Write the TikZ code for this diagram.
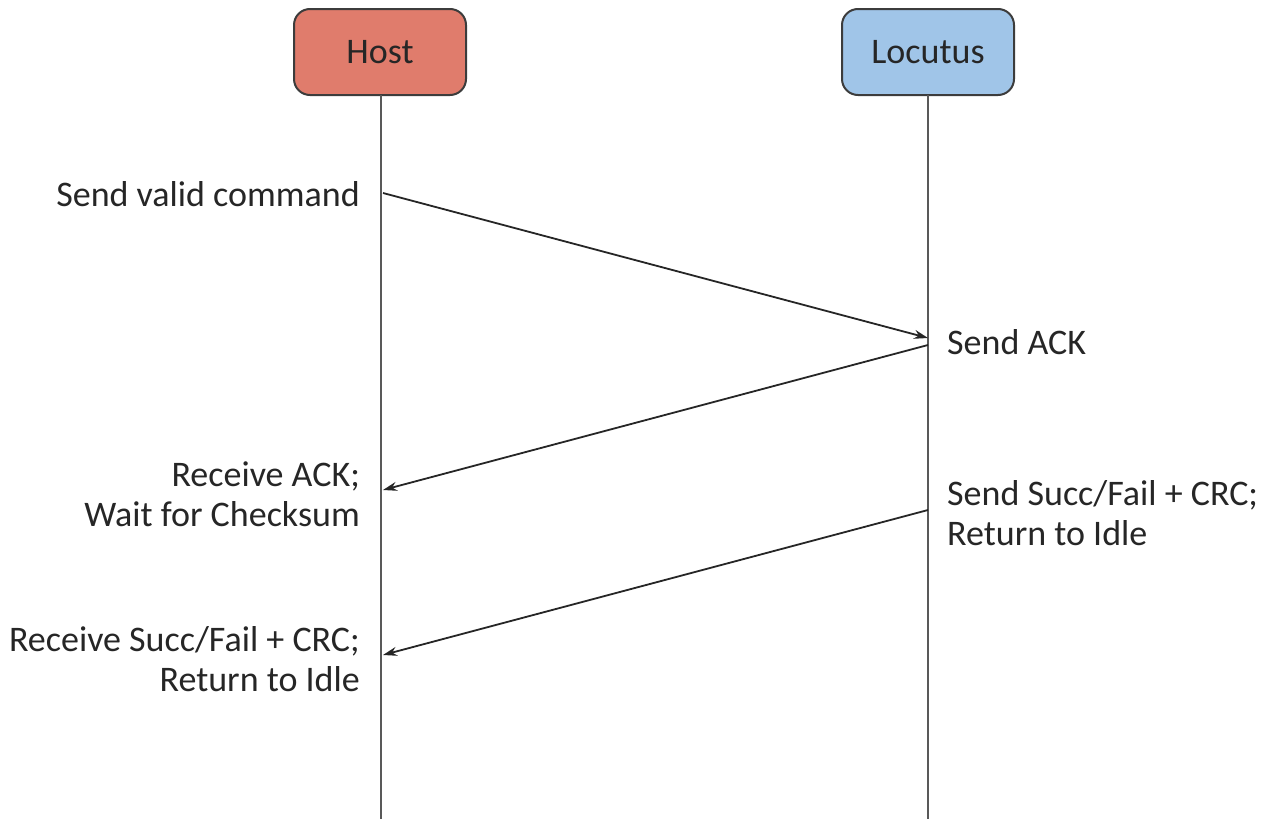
\documentclass[tikz,border=0pt]{standalone}
\usepackage{fontspec}
\setmainfont{Carlito}
\usetikzlibrary{arrows.meta}
\definecolor{hostfill}{RGB}{224,124,108}
\definecolor{locfill}{RGB}{160,197,232}
\definecolor{edge}{RGB}{60,60,60}
\tikzset{
  actor/.style={draw=edge, line width=2pt, rounded corners=16pt, minimum width=172pt, minimum height=86pt, font=\fontsize{36}{40}\selectfont, text=black!85},
  lifeline/.style={draw=edge!85, line width=2.2pt},
  msg/.style={draw=black!85, line width=1.8pt, -{Stealth[length=14pt,width=9pt]}},
  note/.style={font=\fontsize{36}{40}\selectfont, text=black!85, inner sep=0pt}
}
\begin{document}
\begin{tikzpicture}[x=1pt,y=-1pt]
\useasboundingbox (0,0) rectangle (1272,819);
% participants
\node[actor, fill=hostfill] (host) at (380,52) {Host};
\node[actor, fill=locfill] (loc) at (928,52) {Locutus};
% lifelines
\coordinate (hostend) at (381,819);
\coordinate (locend) at (928,819);
\draw[lifeline] (381,95) -- (hostend);
\draw[lifeline] (928,95) -- (locend);
% message anchor points
\coordinate (h1) at (383,193);
\coordinate (l1) at (928,338);
\coordinate (l2) at (928,345);
\coordinate (h2) at (383,490);
\coordinate (l3) at (928,510);
\coordinate (h3) at (383,655);
\draw[msg] (h1) -- (l1);
\draw[msg] (l2) -- (h2);
\draw[msg] (l3) -- (h3);
% labels
\node[note, anchor=east] (t1) at (360,194) {Send valid command};
\node[note, anchor=west] (t2) at (947,342) {Send ACK};
\node[note, anchor=east, align=right] (t3) at (360,494) {Receive ACK;\\Wait for Checksum};
\node[note, anchor=west, align=left] (t4) at (947,513) {Send Succ/Fail + CRC;\\Return to Idle};
\node[note, anchor=east, align=right] (t5) at (360,659) {Receive Succ/Fail + CRC;\\Return to Idle};
\end{tikzpicture}
\end{document}
